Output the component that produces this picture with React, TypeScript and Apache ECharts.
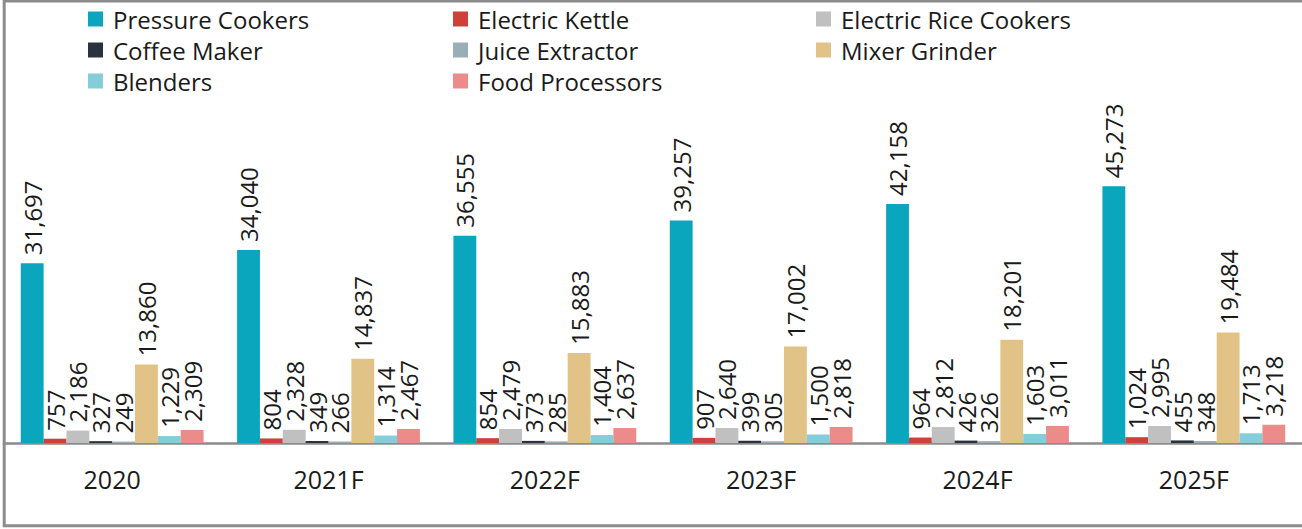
import React, { useEffect, useRef } from "react";
import * as echarts from "echarts";

const categories = ["2020", "2021F", "2022F", "2023F", "2024F", "2025F"];
const pressureCookers = [31697, 34040, 36555, 39257, 42158, 45273];
const electricKettle = [757, 804, 854, 907, 964, 1024];
const electricRiceCookers = [2186, 2328, 2479, 2640, 2812, 2995];
const coffeeMaker = [327, 349, 373, 399, 426, 455];
const juiceExtractor = [249, 266, 285, 305, 326, 348];
const mixerGrinder = [13860, 14837, 15883, 17002, 18201, 19484];
const blenders = [1229, 1314, 1404, 1500, 1603, 1713];
const foodProcessors = [2309, 2467, 2637, 2818, 3011, 3218];

const seriesDefs = [
  { name: "Pressure Cookers", data: pressureCookers, color: "#0aa6bd" },
  { name: "Electric Kettle", data: electricKettle, color: "#d0403a" },
  { name: "Electric Rice Cookers", data: electricRiceCookers, color: "#c0c0c0" },
  { name: "Coffee Maker", data: coffeeMaker, color: "#2b323e" },
  { name: "Juice Extractor", data: juiceExtractor, color: "#9aaeb8" },
  { name: "Mixer Grinder", data: mixerGrinder, color: "#e2c387" },
  { name: "Blenders", data: blenders, color: "#86cddc" },
  { name: "Food Processors", data: foodProcessors, color: "#ec8c8a" },
];

const legendColumns = [
  { left: 88, items: ["Pressure Cookers", "Coffee Maker", "Blenders"] },
  { left: 453, items: ["Electric Kettle", "Juice Extractor", "Food Processors"] },
  { left: 816, items: ["Electric Rice Cookers", "Mixer Grinder"] },
];

const FONT = "'Open Sans', 'Liberation Sans', sans-serif";
const TEXT = "#1a1a1a";

export default function App() {
  const ref = useRef<HTMLDivElement>(null);

  useEffect(() => {
    if (!ref.current) return;
    const chart = echarts.init(ref.current, null, { renderer: "svg" });
    const option: any = {
      animation: false,
      textStyle: { fontFamily: FONT },
      legend: legendColumns.map((c) => ({
        orient: "vertical",
        left: c.left,
        top: 7,
        padding: 0,
        data: c.items,
        icon: "rect",
        itemWidth: 15,
        itemHeight: 15,
        itemGap: 7,
        selectedMode: false,
        textStyle: {
          fontFamily: FONT,
          fontSize: 24,
          lineHeight: 24,
          color: TEXT,
          padding: [0, 0, 0, 5],
        },
      })),
      grid: { left: 4, right: -2, top: 159.5, bottom: 86 },
      xAxis: {
        type: "category",
        data: categories,
        axisTick: { show: false },
        axisLine: { lineStyle: { color: "#8c8c8c", width: 2.5 } },
        axisLabel: {
          fontFamily: FONT,
          fontSize: 25,
          lineHeight: 25,
          color: TEXT,
          margin: 23,
        },
      },
      yAxis: {
        type: "value",
        min: 0,
        max: 50000,
        show: false,
        splitLine: { show: false },
      },
      graphic: [
        { type: "line", shape: { x1: 4.2, y1: 0, x2: 4.2, y2: 527 }, style: { stroke: "#8c8c8c", lineWidth: 3 } },
        { type: "line", shape: { x1: 3, y1: 1, x2: 1302, y2: 1 }, style: { stroke: "#8c8c8c", lineWidth: 3 } },
        { type: "line", shape: { x1: 3, y1: 525.8, x2: 1302, y2: 525.8 }, style: { stroke: "#8c8c8c", lineWidth: 3 } },
      ],
      series: seriesDefs.map((s) => ({
        name: s.name,
        type: "bar",
        data: s.data,
        barGap: "0%",
        barCategoryGap: "15.5%",
        itemStyle: { color: s.color },
        label: {
          show: true,
          position: "top",
          rotate: 90,
          align: "left",
          verticalAlign: "middle",
          distance: 8,
          fontFamily: FONT,
          fontSize: 24,
          color: TEXT,
          formatter: (p: any) => Number(p.value).toLocaleString("en-US"),
        },
      })),
    };
    chart.setOption(option);
    return () => chart.dispose();
  }, []);

  return (
    <div
      ref={ref}
      style={{ position: "fixed", left: 0, top: 0, width: 1302, height: 529, background: "#fff" }}
    />
  );
}
